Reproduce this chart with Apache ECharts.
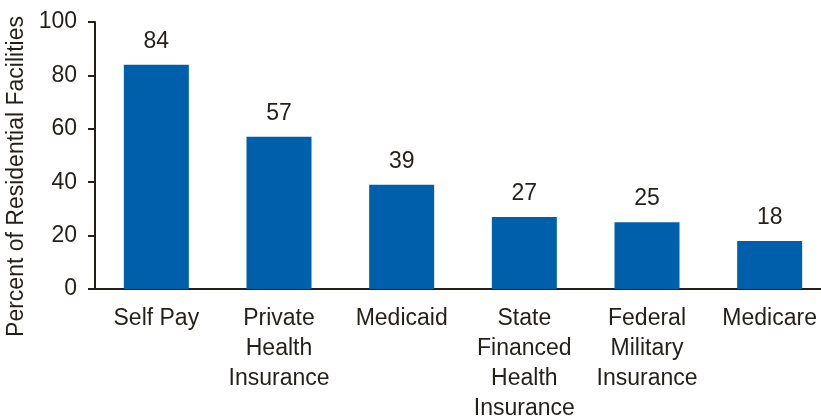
<!DOCTYPE html>
<html>
<head>
<meta charset="utf-8">
<script src="https://cdn.jsdelivr.net/npm/echarts@6/dist/echarts.min.js"></script>
<style>html,body{margin:0;padding:0;background:#fff}#c{width:821px;height:420px}</style>
</head>
<body>
<div id="c"></div>
<script>
var categories = ['Self Pay', 'Private\nHealth\nInsurance', 'Medicaid', 'State\nFinanced\nHealth\nInsurance', 'Federal\nMilitary\nInsurance', 'Medicare'];
var values = [84, 57, 39, 27, 25, 18];
var yTicks = [0, 20, 40, 60, 80, 100];

var ink = '#231f1a';
var font = "'Liberation Sans', Arial, sans-serif";
var chart = echarts.init(document.getElementById('c'));
chart.setOption({
  animation: false,
  grid: { left: 95, top: 22, width: 736, height: 267, containLabel: false, outerBoundsMode: 'none' },
  xAxis: {
    type: 'category',
    data: categories,
    axisLine: { lineStyle: { color: ink, width: 2 } },
    axisTick: { show: false },
    axisLabel: { color: ink, fontSize: 23, fontFamily: font, lineHeight: 30, margin: 15, interval: 0 }
  },
  yAxis: {
    type: 'value',
    min: yTicks[0],
    max: yTicks[yTicks.length - 1],
    interval: 20,
    name: 'Percent of Residential Facilities',
    nameLocation: 'middle',
    nameGap: 65,
    nameTextStyle: { color: ink, fontSize: 23, fontFamily: font, padding: [0, 42, 0, 0] },
    axisLine: { show: true, lineStyle: { color: ink, width: 2 } },
    axisTick: { show: true, inside: false, length: 7, lineStyle: { color: ink, width: 2 } },
    axisLabel: { color: ink, fontSize: 23, fontFamily: font, margin: 18 },
    splitLine: { show: false }
  },
  series: [{
    type: 'bar',
    data: values,
    barWidth: 65,
    itemStyle: { color: '#005faa' },
    label: { show: true, position: 'top', distance: 12, color: ink, fontSize: 23, fontFamily: font }
  }]
});
</script>
</body>
</html>
